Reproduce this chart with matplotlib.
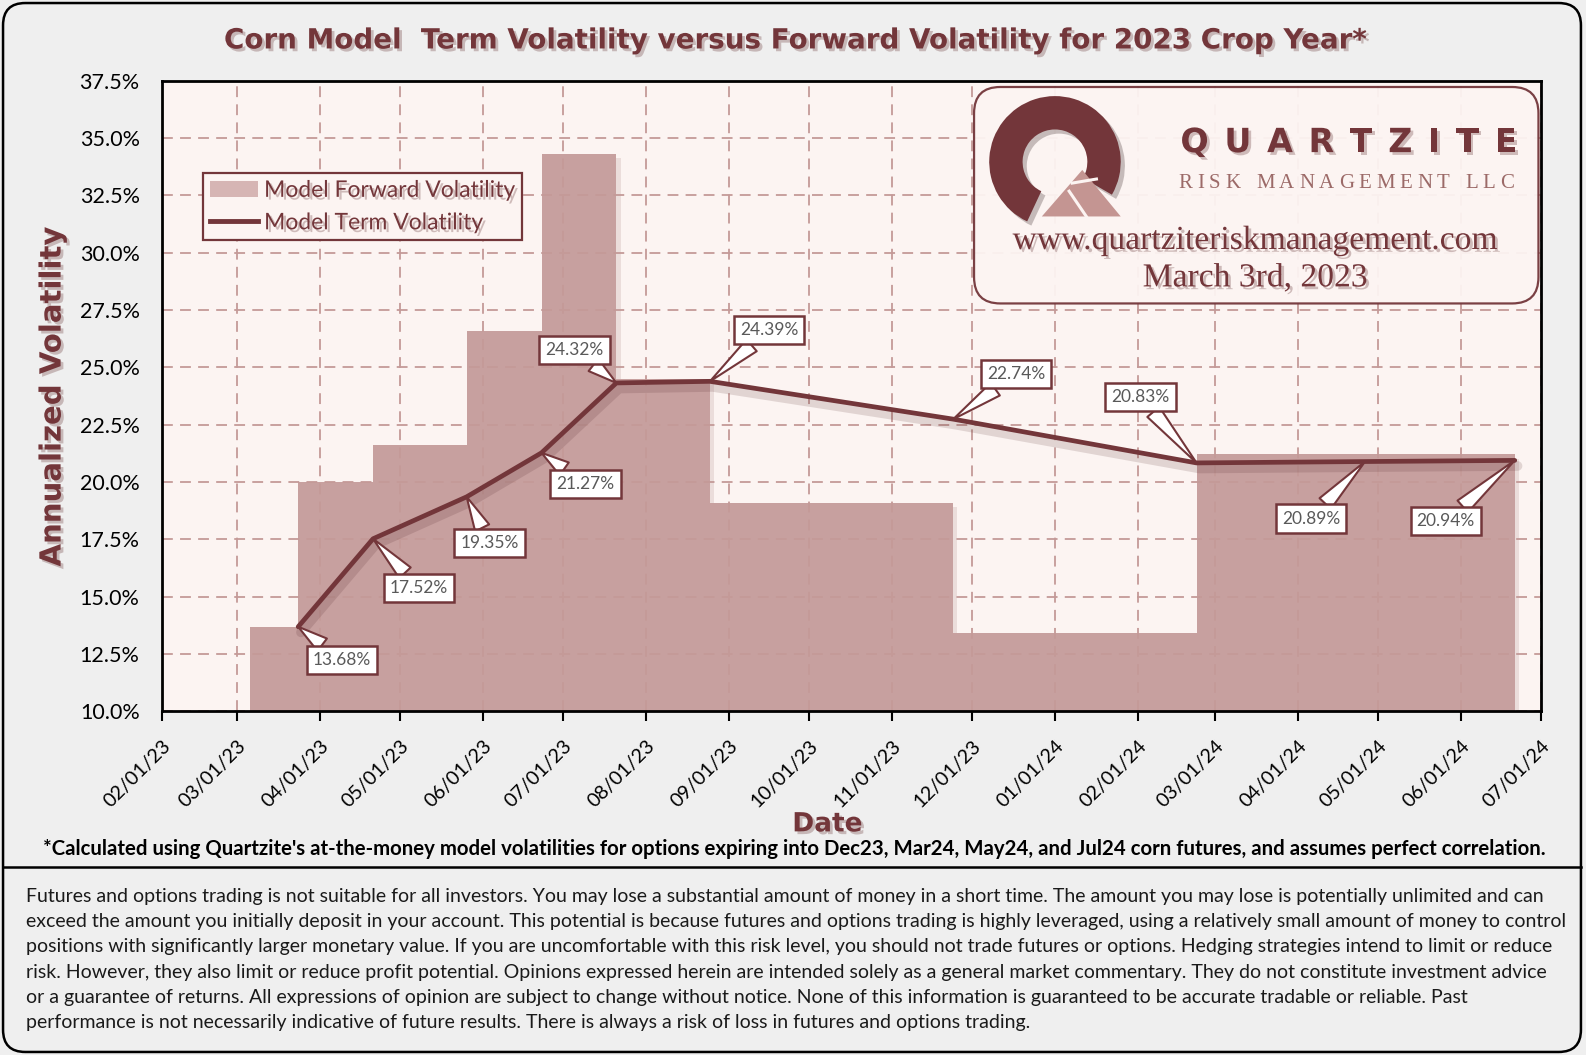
import matplotlib
matplotlib.use("Agg")
import matplotlib.pyplot as plt
import matplotlib.dates as mdates
import matplotlib.patheffects as pe
from matplotlib.patches import FancyBboxPatch, Patch, Wedge, Polygon
from matplotlib.lines import Line2D
from matplotlib.ticker import FuncFormatter, MultipleLocator
from matplotlib.textpath import TextToPath
from matplotlib.font_manager import FontProperties
import pandas as pd

# forward volatility steps (start of each step, last entry is the end)
fwd_edges = ["2023-03-06", "2023-03-24", "2023-04-21", "2023-05-26", "2023-06-23",
             "2023-07-21", "2023-08-25", "2023-11-24", "2024-02-23", "2024-04-26",
             "2024-06-21"]
fwd_vols = [13.68, 20.0, 21.6, 26.6, 34.3, 24.5, 19.1, 13.4, 21.2, 21.2]

# term volatility at each option expiry
term_dates = ["2023-03-24", "2023-04-21", "2023-05-26", "2023-06-23", "2023-07-21",
              "2023-08-25", "2023-11-24", "2024-02-23", "2024-04-26", "2024-06-21"]
term_vols = [13.68, 17.52, 19.35, 21.27, 24.32, 24.39, 22.74, 20.83, 20.89, 20.94]

# callout offsets for each term label (pixels)
label_offsets = [(44, -33), (46, -49), (23, -46), (44, -31), (-42, 33),
                 (59, 51), (63, 45), (-56, 66), (-54, -57), (-69, -61)]

disclaimer = [
    "Futures and options trading is not suitable for all investors. You may lose a substantial amount of money in a short time. The amount you may lose is potentially unlimited and can",
    "exceed the amount you initially deposit in your account. This potential is because futures and options trading is highly leveraged, using a relatively small amount of money to control",
    "positions with significantly larger monetary value. If you are uncomfortable with this risk level, you should not trade futures or options. Hedging strategies intend to limit or reduce",
    "risk. However, they also limit or reduce profit potential. Opinions expressed herein are intended solely as a general market commentary. They do not constitute investment advice",
    "or a guarantee of returns. All expressions of opinion are subject to change without notice. None of this information is guaranteed to be accurate tradable or reliable. Past",
    "performance is not necessarily indicative of future results. There is always a risk of loss in futures and options trading.",
]

DARK = "#73363a"
FILL = "#c7a09f"
BG = "#efefef"
PLOT_BG = "#fcf4f2"
GRID = "#c49a98"
SANS = "Lato"

# layout is worked out on a 1568 x 1043 grid, scaled to the real figure
GW, GH = 1568, 1043
fig = plt.figure(figsize=(15.86, 10.55), dpi=100, facecolor=BG)
S = 1586 / GW

t2p = TextToPath()


def spaced_text(axis, x0, x1, y, s, fp, **kw):
    # spread the letters of s evenly between x0 and x1 (grid units)
    widths = []
    for ch in s:
        if ch == " ":
            widths.append(fp.get_size_in_points() * 0.3)
        else:
            widths.append(t2p.get_text_width_height_descent(ch, fp, ismath=False)[0])
    widths = [w * 100 / 72 / S for w in widths]
    extra = (x1 - x0 - sum(widths)) / (len(s) - 1)
    x = x0
    for ch, w in zip(s, widths):
        if ch != " ":
            axis.text(x, y, ch, ha="left", va="center", fontproperties=fp, **kw)
        x += w + extra


bg = fig.add_axes([0, 0, 1, 1], zorder=0)
bg.set_xlim(0, GW)
bg.set_ylim(GH, 0)
bg.axis("off")
bg.add_patch(FancyBboxPatch((3, 3), 1560, 1037, boxstyle="round,pad=0,rounding_size=22",
                            fc=BG, ec="black", lw=1.8))
bg.plot([3, 1563], [857, 857], color="black", lw=1.8)

shadow = [pe.SimplePatchShadow(offset=(2, -2), shadow_rgbFace="#7a5050", alpha=0.35), pe.Normal()]

bg.text(787, 40, "Corn Model  Term Volatility versus Forward Volatility for 2023 Crop Year*",
        ha="center", va="center", fontsize=20, fontweight="heavy", color=DARK,
        family="DejaVu Sans", path_effects=shadow)
bg.text(785, 839, "*Calculated using Quartzite's at-the-money model volatilities for options expiring "
        "into Dec23, Mar24, May24, and Jul24 corn futures, and assumes perfect correlation.",
        ha="center", va="center", fontsize=14.7, fontweight="bold", color="black", family=SANS)
for i, line in enumerate(disclaimer):
    bg.text(26, 886 + 25 * i, line, ha="left", va="center", fontsize=14.05,
            color="#1a1a1a", family=SANS)

# main chart
ax = fig.add_axes([160 / GW, 1 - 703 / GH, 1364 / GW, 623 / GH], zorder=2)
ax.set_facecolor(PLOT_BG)

edges = pd.to_datetime(fwd_edges)
ax.fill_between(edges, list(fwd_vols) + [fwd_vols[-1]], 10, step="post", color=FILL,
                lw=0, zorder=1,
                path_effects=[pe.SimplePatchShadow(offset=(3, -3), shadow_rgbFace="#8a5a5a",
                                                   alpha=0.15), pe.Normal()])

tdates = pd.to_datetime(term_dates)
ax.plot(tdates, term_vols, color=DARK, lw=3.4, zorder=3, solid_capstyle="round",
        path_effects=[pe.SimpleLineShadow(offset=(2, -4), shadow_color="#4a2020", alpha=0.15,
                                          linewidth=7), pe.Normal()])

for d, v, off in zip(tdates, term_vols, label_offsets):
    ax.annotate(f"{v:.2f}%", xy=(d, v), xytext=off, textcoords="offset pixels",
                ha="center", va="center", fontsize=12.5, color="#595959", family=SANS,
                zorder=5,
                bbox=dict(boxstyle="square,pad=0.35", fc="white", ec=DARK, lw=1.8),
                arrowprops=dict(arrowstyle="wedge,tail_width=0.9", fc="white", ec=DARK,
                                lw=1.5, shrinkA=0, shrinkB=0))

ax.set_xlim(pd.Timestamp("2023-02-01"), pd.Timestamp("2024-07-01"))
ax.set_ylim(10, 37.5)
ax.xaxis.set_major_locator(mdates.MonthLocator())
ax.xaxis.set_major_formatter(mdates.DateFormatter("%m/%d/%y"))
ax.yaxis.set_major_locator(MultipleLocator(2.5))
ax.yaxis.set_major_formatter(FuncFormatter(lambda v, p: f"{v:.1f}%"))
ax.tick_params(axis="x", length=7, width=1.5, direction="out", labelsize=14.2, pad=12)
ax.tick_params(axis="y", length=0, labelsize=15.5, pad=16)
for lab in ax.get_xticklabels():
    lab.set_rotation(45)
    lab.set_ha("right")
    lab.set_rotation_mode("anchor")
    lab.set_family(SANS)
for lab in ax.get_yticklabels():
    lab.set_family(SANS)
for s in ax.spines.values():
    s.set_linewidth(2)
    s.set_color("black")

ax.set_axisbelow("line")
ax.grid(True, color=GRID, lw=1.3, linestyle=(0, (6, 4)))

ax.set_ylabel("Annualized Volatility", fontsize=21, fontweight="bold", color=DARK,
              family="DejaVu Sans", path_effects=shadow)
ax.yaxis.set_label_coords((52 - 160) / 1364, (703 - 392) / 623)
ax.set_xlabel("Date", fontsize=19, fontweight="bold", color=DARK, family="DejaVu Sans",
              path_effects=shadow)
ax.xaxis.set_label_coords((818 - 160) / 1364, -(815 - 703) / 623)
ax.xaxis.label.set_va("center")
ax.yaxis.label.set_va("center")

handles = [Patch(fc="#d6b5b4", ec="none"), Line2D([], [], color=DARK, lw=3.5)]
leg = ax.legend(handles, ["Model Forward Volatility", "Model Term Volatility"],
                loc="upper left", bbox_to_anchor=((201 - 160) / 1364, (703 - 171) / 623),
                fancybox=False, facecolor=PLOT_BG, edgecolor=DARK, framealpha=1,
                handlelength=2.1, borderpad=0.3, labelspacing=0.5, handletextpad=0.25,
                borderaxespad=0, prop={"family": SANS, "size": 16.5})
leg.get_frame().set_linewidth(1.6)
for t in leg.get_texts():
    t.set_color(DARK)
    t.set_path_effects(shadow)
leg.set_zorder(6)

# logo box on top of the chart
top = fig.add_axes([0, 0, 1, 1], zorder=4)
top.set_xlim(0, GW)
top.set_ylim(GH, 0)
top.axis("off")
top.patch.set_alpha(0)
top.add_patch(FancyBboxPatch((963, 86), 558, 214, boxstyle="round,pad=0,rounding_size=26",
                             fc=PLOT_BG, ec=DARK, lw=1.6, alpha=0.95))
top.add_patch(Wedge((1043, 160), 65, 115, 30, width=33, fc=DARK, ec="none",
                    path_effects=[pe.SimplePatchShadow(offset=(3, -3), alpha=0.25), pe.Normal()]))
top.add_patch(Polygon([(1070, 168), (1108, 214), (1030, 214)], closed=True, fc="#c49592",
                      ec="none"))
top.plot([1060, 1084], [181, 177], color=PLOT_BG, lw=2.2)
top.plot([1057, 1074], [189, 214], color=PLOT_BG, lw=2.2)

spaced_text(top, 1167, 1500, 141, "QUARTZITE",
            FontProperties(family="DejaVu Sans", weight="heavy", size=24), color=DARK,
            path_effects=shadow)
spaced_text(top, 1165, 1497, 181, "RISK MANAGEMENT LLC",
            FontProperties(family="Liberation Serif", size=15), color="#9c6a68")
top.text(1241, 238, "www.quartziteriskmanagement.com", ha="center", va="center", fontsize=24.2,
         color=DARK, family="Liberation Serif", path_effects=shadow)
top.text(1241, 275, "March 3rd, 2023", ha="center", va="center", fontsize=24.2,
         color=DARK, family="Liberation Serif", path_effects=shadow)

fig.savefig("out.png", dpi=100, facecolor=BG)
